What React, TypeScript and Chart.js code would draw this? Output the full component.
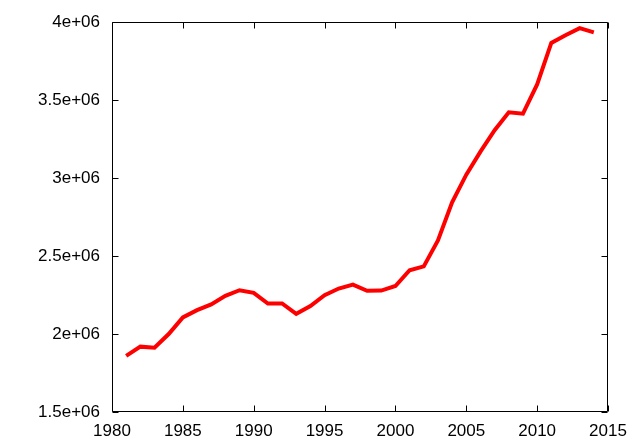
import React, { useEffect, useRef } from "react";
import { Chart, registerables } from "chart.js";

Chart.register(...registerables);

const years = [
  1981, 1982, 1983, 1984, 1985, 1986, 1987, 1988, 1989, 1990, 1991, 1992,
  1993, 1994, 1995, 1996, 1997, 1998, 1999, 2000, 2001, 2002, 2003, 2004,
  2005, 2006, 2007, 2008, 2009, 2010, 2011, 2012, 2013, 2014,
];
const values = [
  1860000, 1919000, 1912000, 2000000, 2107000, 2153000, 2190000, 2245000,
  2281000, 2264000, 2196000, 2196000, 2130000, 2179000, 2249000, 2292000,
  2317000, 2277000, 2279000, 2308000, 2409000, 2434000, 2600000, 2845000,
  3022000, 3170000, 3307000, 3422000, 3413000, 3601000, 3867000, 3916000,
  3962000, 3935000,
];
const xMin = 1980;
const xMax = 2015;
const xStep = 5;
const yMin = 1500000;
const yMax = 4000000;
const yStep = 500000;

function gFormat(v: number): string {
  const m = v / 1e6;
  const s = Number.isInteger(m) ? String(m) : String(Math.round(m * 100) / 100);
  return s + "e+06";
}

const frame = {
  id: "frame",
  afterDraw(chart: any) {
    const { ctx, chartArea: a, scales } = chart;
    const L = Math.round(a.left) + 0.5;
    const R = Math.round(a.right) - 0.5;
    const T = Math.round(a.top) + 0.5;
    const B = Math.round(a.bottom) - 0.5;
    const tl = 6;
    ctx.save();
    ctx.strokeStyle = "#000";
    ctx.lineWidth = 1;
    ctx.beginPath();
    ctx.rect(L, T, R - L, B - T);
    scales.x.ticks.forEach((t: any) => {
      const x = Math.round(scales.x.getPixelForValue(t.value)) + 0.5;
      ctx.moveTo(x, B);
      ctx.lineTo(x, B - tl);
      ctx.moveTo(x, T);
      ctx.lineTo(x, T + tl);
    });
    scales.y.ticks.forEach((t: any) => {
      const y = Math.round(scales.y.getPixelForValue(t.value)) + 0.5;
      ctx.moveTo(L, y);
      ctx.lineTo(L + tl, y);
      ctx.moveTo(R, y);
      ctx.lineTo(R - tl, y);
    });
    ctx.stroke();
    ctx.restore();
  },
};

export default function App() {
  const ref = useRef<HTMLCanvasElement | null>(null);
  useEffect(() => {
    if (!ref.current) return;
    const font = { family: "'Liberation Sans', Arial, sans-serif", size: 17 };
    const chart = new Chart(ref.current, {
      type: "line",
      data: {
        datasets: [
          {
            data: years.map((y, i) => ({ x: y, y: values[i] })),
            borderColor: "#ff0000",
            borderWidth: 4,
            pointRadius: 0,
            tension: 0,
            fill: false,
          },
        ],
      },
      options: {
        responsive: false,
        animation: false,
        layout: { padding: { top: 21, right: 32, left: 0, bottom: 0 } },
        plugins: { legend: { display: false }, tooltip: { enabled: false } },
        scales: {
          x: {
            type: "linear",
            min: xMin,
            max: xMax,
            grid: { display: false, drawTicks: false },
            border: { display: false },
            ticks: {
              stepSize: xStep,
              padding: 9,
              color: "#000",
              font,
              maxRotation: 0,
              callback: (v: any) => String(v),
            },
            afterFit: (s: any) => {
              s.height = 36;
            },
          },
          y: {
            type: "linear",
            min: yMin,
            max: yMax,
            grid: { display: false, drawTicks: false },
            border: { display: false },
            ticks: {
              stepSize: yStep,
              padding: 12,
              color: "#000",
              font,
              callback: (v: any) => gFormat(Number(v)),
            },
            afterFit: (s: any) => {
              s.width = 112;
            },
          },
        },
      },
      plugins: [frame],
    });
    return () => chart.destroy();
  }, []);
  return (
    <div style={{ position: "absolute", left: 0, top: 0, width: 640, height: 448, background: "#fff" }}>
      <canvas ref={ref} width={640} height={448} />
    </div>
  );
}
